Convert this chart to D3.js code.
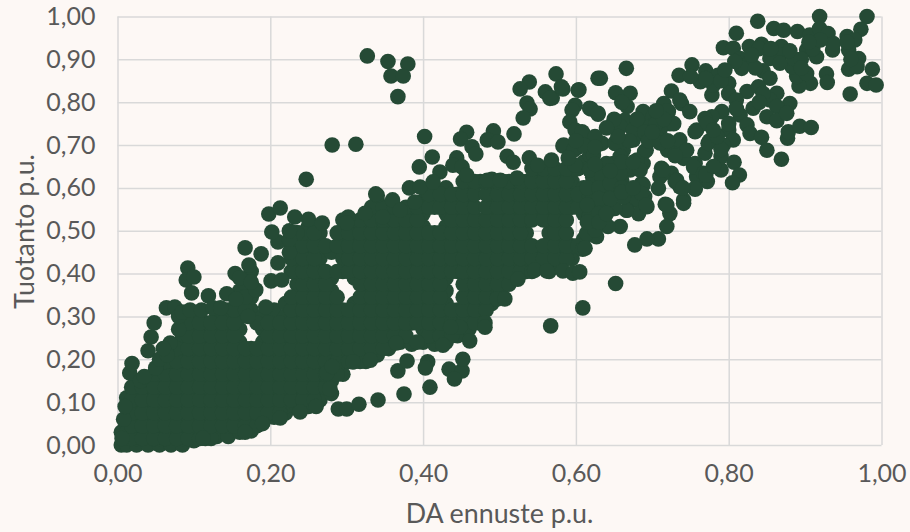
<!DOCTYPE html>
<html><head><meta charset="utf-8">
<script src="https://cdn.jsdelivr.net/npm/d3@7/dist/d3.min.js"></script>
<style>html,body{margin:0;padding:0;background:#fdf8f5}svg{display:block}</style>
</head><body><svg id="c" width="910" height="532"></svg>
<script>
const xTickValues=[0,.2,.4,.6,.8,1];
const yTickValues=[0,.1,.2,.3,.4,.5,.6,.7,.8,.9,1];
const xTitle="DA ennuste p.u.";
const yTitle="Tuotanto p.u.";
// dense core: forecast value of each column and the production values read in it
const coreForecast=[.005,.012,.025,.04,.055,.07,.085,.1,.115,.13,.145,.16,.175,.19,.205,.22,.235,.25,.265,.28,.295,.31,.325,.34,.355,.37,.385,.4,.415,.43,.445,.46,.475,.49,.505,.52,.535,.55,.565,.58,.595,.61];
const coreProduction=[
[0,.03],
[0,.03,.06,.09,.11],
[0,.015,.045,.075,.105,.135,.15],
[0,.03,.06,.09,.12,.15],
[0,.015,.045,.075,.105,.135,.165],
[0,.03,.06,.09,.12,.15,.18,.21],
[0,.015,.045,.075,.105,.135,.165,.195,.225,.255,.285],
[.01,.03,.06,.09,.12,.15,.18,.21,.24,.27,.3],
[.015,.045,.075,.105,.135,.165,.195,.225,.255,.285],
[.02,.03,.06,.09,.12,.15,.18,.21,.24,.27,.3],
[.02,.045,.075,.105,.135,.165,.195,.225,.255,.285,.315],
[.03,.06,.09,.12,.15,.18,.21,.24,.27,.3,.33,.36],
[.033,.045,.075,.105,.135,.165,.195,.225,.315,.345,.375,.405],
[.052,.06,.09,.12,.15,.18,.21,.24,.27,.3],
[.065,.075,.105,.135,.165,.195,.225,.255,.285,.315],
[.075,.09,.12,.15,.18,.21,.24,.27,.3,.33],
[.09,.105,.135,.165,.195,.225,.255,.285,.315,.345,.375,.405,.435,.465,.495],
[.09,.12,.15,.18,.21,.24,.27,.3,.33,.36,.39,.42,.45,.48,.51],
[.105,.135,.165,.195,.225,.255,.285,.315,.345,.375,.405,.435,.465,.495],
[.12,.15,.18,.21,.24,.27,.3,.33,.36,.39,.45],
[.165,.195,.225,.255,.285,.315,.405,.435,.465,.495,.525],
[.195,.21,.24,.27,.3,.33,.39,.42,.45,.48,.51],
[.195,.225,.255,.285,.315,.345,.375,.405,.435,.465,.495,.525],
[.21,.24,.27,.3,.33,.36,.39,.42,.45,.48,.51,.54,.57],
[.225,.255,.285,.315,.345,.375,.405,.435,.465,.495,.525,.555],
[.24,.27,.3,.33,.36,.39,.42,.45,.48,.51,.54],
[.235,.285,.315,.345,.375,.405,.435,.465,.495,.525,.555],
[.24,.27,.3,.33,.36,.39,.42,.45,.48,.51,.54,.57],
[.235,.255,.285,.315,.345,.375,.405,.435,.465,.495,.555,.585,.6],
[.24,.27,.3,.33,.36,.39,.42,.45,.48,.51,.54,.57,.6],
[.255,.285,.315,.405,.435,.465,.495,.525,.555,.585],
[.27,.3,.33,.36,.39,.42,.45,.48,.51,.54,.57,.6],
[.285,.315,.345,.375,.405,.435,.465,.495,.525,.615],
[.33,.36,.39,.42,.45,.48,.51,.54,.57,.6,.62],
[.345,.375,.405,.435,.465,.495,.525,.555,.585,.615],
[.39,.42,.45,.48,.51,.54,.57,.6],
[.405,.435,.465,.495,.525,.555,.585,.615],
[.42,.45,.54,.57,.6,.63],
[.405,.435,.465,.495,.525,.555,.585,.615,.645],
[.42,.45,.48,.51,.54,.57,.6,.63],
[.435,.465,.555,.585,.615,.645],
[.48,.54,.57,.6,.66]
];
// second reading of the core, between the columns above
const midForecast=[.0185,.0325,.0475,.0625,.0775,.0925,.1075,.1225,.1375,.1525,.1675,.1825,.1975,.2125,.2275,.2425,.2575,.2725,.2875,.3025,.3175,.3325,.3475,.3625,.3775,.3925,.4075,.4225,.4375,.4525,.4675,.4825,.4975,.5125,.5275,.5425,.5575,.5725,.5875,.6025];
const midProduction=[
[.015,.045,.075,.105,.135],
[.015,.045,.075,.105,.135],
[.015,.045,.075,.105,.135,.165],
[.015,.045,.075,.105,.135,.165,.195],
[.015,.045,.075,.105,.135,.165,.195,.225],
[.015,.045,.075,.105,.135,.165,.195,.225,.255,.285],
[.015,.045,.075,.105,.135,.165,.195,.225,.255,.285],
[.015,.045,.075,.105,.135,.165,.195,.225,.255,.285],
[.045,.075,.105,.135,.165,.195,.225,.255,.285],
[.045,.075,.105,.135,.165,.195,.225,.255,.285,.315],
[.045,.075,.105,.135,.165,.195,.225,.315,.345],
[.045,.075,.105,.135,.165,.195,.225,.285],
[.075,.105,.135,.165,.195,.225,.255,.285],
[.075,.105,.135,.165,.195,.225,.255,.285],
[.105,.135,.165,.195,.225,.255,.285,.315,.345,.405,.435,.465,.495],
[.105,.135,.165,.195,.225,.255,.285,.315,.345,.375,.405,.435,.465,.495],
[.105,.135,.165,.195,.225,.255,.285,.315,.345,.375,.405,.435,.465,.495],
[.135,.165,.195,.225,.255,.285,.315,.345,.375,.405,.465],
[.165,.195,.225,.255,.285,.315,.345,.405,.465,.495],
[.195,.225,.255,.285,.315,.405,.435,.465,.495],
[.195,.225,.255,.285,.315,.345,.375,.405,.435,.465,.495,.525],
[.225,.255,.285,.315,.345,.375,.405,.435,.465,.495,.525,.555],
[.225,.255,.285,.315,.345,.375,.405,.435,.465,.495,.525,.555],
[.255,.285,.315,.345,.375,.405,.435,.465,.495,.525,.555],
[.255,.285,.315,.345,.375,.405,.435,.465,.495,.525,.555],
[.285,.315,.345,.375,.405,.435,.465,.495,.525,.555],
[.255,.285,.315,.345,.375,.405,.435,.465,.495,.555,.585],
[.255,.285,.315,.345,.375,.405,.435,.465,.495,.555,.585],
[.255,.285,.315,.405,.435,.465,.495,.525,.555,.585],
[.285,.315,.345,.375,.405,.435,.465,.495,.525,.555,.585,.615],
[.285,.315,.345,.375,.405,.435,.465,.495,.525,.555,.585,.615],
[.315,.345,.375,.405,.435,.465,.495,.525,.555,.585,.615],
[.345,.375,.405,.435,.465,.495,.525,.555,.585,.615],
[.375,.405,.435,.465,.495,.525,.555,.585,.615],
[.405,.435,.465,.495,.525,.555,.585,.615],
[.405,.435,.465,.525,.555,.585,.615,.645],
[.435,.465,.525,.555,.585,.615,.645],
[.435,.465,.495,.525,.555,.585,.615,.645],
[.435,.465,.495,.525,.555,.585,.615,.645],
[.465,.555,.585,.645]
];
// individually readable points around the core: [forecast, production]
const outerPoints=[
[.016,.168],[.019,.19],[.04,.22],[.044,.252],[.048,.285],[.064,.32],[.075,.322],[.092,.413],[.09,.385],[.1,.392],[.097,.355],[.119,.348],[.143,.353],[.154,.4],[.172,.42],[.167,.46],[.188,.446],[.181,.362],[.194,.322],[.171,.3],[.21,.474],[.202,.497],[.198,.539],[.213,.553],[.21,.425],[.201,.383],[.215,.385],[.232,.532],[.25,.527],[.268,.518],[.235,.495],[.302,.532],[.3,.518],[.34,.583],[.36,.572],[.324,.541],[.347,.532],[.069,.238],
[.112,.016],[.167,.03],[.19,.05],[.213,.063],[.239,.077],[.26,.09],[.289,.084],[.3,.084],[.316,.095],[.341,.105],[.278,.131],[.274,.168],[.281,.183],[.308,.194],[.331,.198],[.375,.119],[.409,.135],[.367,.173],[.379,.196],[.406,.194],[.403,.18],[.434,.177],[.451,.173],[.441,.154],[.452,.2],[.461,.243],[.365,.238],[.392,.24],[.426,.233],[.481,.285],[.481,.275],[.448,.275],[.436,.275],[.497,.341],[.507,.341],[.524,.387],[.546,.408],[.562,.406],[.583,.406],[.596,.401],[.567,.278],[.609,.32],[.605,.404],[.652,.377],[.609,.457],
[.327,.908],[.354,.895],[.38,.889],[.358,.861],[.374,.861],[.367,.813],[.281,.7],[.312,.702],[.247,.62],[.402,.72],[.412,.672],[.395,.649],[.382,.6],[.396,.602],[.389,.567],[.338,.586],[.37,.548],[.422,.637],[.413,.614],
[.457,.73],[.449,.714],[.464,.696],[.469,.679],[.444,.67],[.439,.653],[.451,.649],[.457,.63],[.492,.733],[.484,.712],[.498,.707],[.519,.726],[.574,.866],[.539,.847],[.527,.831],[.56,.824],[.569,.81],[.583,.831],[.604,.829],[.536,.798],[.54,.784],[.531,.763],[.599,.793],[.595,.782],[.592,.754],[.599,.735],[.609,.728],[.62,.784],[.629,.772],[.629,.856],[.583,.698],[.601,.693],[.609,.707],[.51,.674],[.518,.66],[.539,.67],[.55,.653],[.568,.665],[.599,.653],[.621,.672],[.622,.625],[.484,.618],[.501,.618],[.523,.623],
[.981,1],[.973,.97],[.919,1],[.838,.989],[.81,.961],[.859,.972],[.872,.968],[.89,.965],[.906,.957],[.919,.972],[.93,.96],[.955,.953],[.965,.945],[.936,.922],[.937,.937],[.793,.927],[.806,.926],[.827,.93],[.843,.935],[.869,.93],[.902,.922],[.915,.906],[.957,.922],[.97,.902],[.957,.877],[.968,.883],[.988,.877],[.981,.844],[.993,.84],[.959,.819],[.928,.866],[.929,.846],[.907,.844],[.892,.838],[.889,.86],[.902,.867],[.883,.883],[.867,.91],[.854,.902],[.815,.902],[.828,.895],[.817,.879],[.808,.895],[.845,.873],[.854,.856],[.867,.891],[.885,.902],[.752,.887],[.735,.863],[.77,.873],[.786,.863],[.763,.848],[.8,.844],[.778,.817],[.78,.84],[.725,.826],[.738,.797],[.749,.778],[.8,.82],[.824,.825],[.839,.836],[.81,.805],[.832,.786],[.863,.821],[.854,.805],[.88,.797],[.863,.79],[.85,.766],[.863,.757],[.876,.774],[.791,.778],[.778,.766],[.769,.762],[.758,.735],[.8,.735],[.815,.77],[.824,.747],[.828,.727],[.843,.718],[.85,.688],[.869,.667],[.877,.716],[.878,.731],[.893,.744],[.908,.741],[.775,.71],[.806,.712],[.793,.7],[.769,.681],[.79,.673],[.807,.66],[.79,.642],[.772,.615],[.814,.63],[.805,.612],[.756,.657],[.758,.626],[.756,.597],[.741,.572],[.736,.603],[.741,.669],[.732,.696],[.72,.688],[.715,.797],[.723,.75],[.71,.735],[.688,.778],[.671,.821],[.652,.822],[.667,.79],[.656,.743],[.664,.758],[.693,.75],[.701,.766],[.684,.727],[.632,.856],[.666,.879],[.618,.786],[.629,.774],[.61,.72],[.634,.704],[.651,.704],[.618,.677],[.662,.688],[.69,.685],[.688,.657],[.649,.657],[.632,.65],[.671,.642],[.712,.646],[.71,.626],[.725,.634],[.73,.615],[.708,.599],[.686,.61],[.69,.58],[.677,.572],[.66,.618],[.64,.626],[.623,.626],[.649,.595],[.618,.58],[.649,.552],[.667,.548],[.682,.54],[.693,.556],[.717,.562],[.723,.54],[.719,.51],[.708,.481],[.693,.481],[.677,.467],[.658,.51],[.642,.51],[.627,.486],[.612,.459],[.618,.533],[.614,.494],
[.581,.836],[.566,.809],[.603,.828],[.608,.731],[.584,.7],[.597,.688],[.651,.704],[.658,.743],[.68,.743],[.675,.712],[.706,.719],[.697,.743],[.721,.778],[.728,.75],[.736,.712],[.745,.688],[.754,.649],[.767,.634],[.773,.704],[.771,.75],[.756,.731],[.736,.805],[.714,.642],[.732,.618],[.688,.607],[.686,.587],[.741,.564],[.756,.599],[.719,.56],[.692,.56],[.666,.548],[.651,.552],[.623,.618],[.618,.642],[.653,.61],[.64,.657],[.623,.677],[.658,.673],[.68,.665],[.692,.688],[.684,.642],[.658,.634],[.634,.626],[.662,.579],[.64,.587],[.623,.579],[.632,.556],[.618,.533],[.625,.502],
[.615,.6],[.63,.6],[.645,.61],[.66,.6],[.63,.575],[.645,.575],[.66,.59],[.615,.56],[.63,.54],[.615,.52],[.63,.52],[.64,.54],[.675,.6],[.66,.66],[.675,.66],[.675,.735],[.69,.73],[.67,.71],[.655,.72],[.625,.655],[.645,.64],[.705,.75],[.695,.71],[.71,.705],[.72,.71],[.73,.675],[.74,.6],[.77,.63],[.78,.65],[.79,.69],[.785,.72],[.78,.735],[.8,.75],[.81,.785],[.845,.82],[.84,.8],[.835,.88],[.84,.925],[.855,.925],[.88,.92],[.895,.9],[.895,.88],[.91,.925],[.92,.945],[.905,.94],[.83,.91],[.96,.9],[.955,.94],[.79,.85],[.795,.875],[.77,.855],[.75,.86],[.72,.78],[.7,.73],[.715,.76],[.705,.78],[.66,.8],[.68,.76],[.65,.76],[.64,.74],[.625,.72],[.61,.7],[.625,.695],[.59,.67],[.6,.71],[.225,.45],[.225,.48],[.225,.5],
[.03,.15],[.035,.16],[.05,.18],[.055,.2],[.065,.21],[.06,.225],[.08,.27],[.08,.3],[.085,.31],[.095,.315],[.11,.315],[.125,.32],[.135,.32],[.155,.34],[.165,.38],[.16,.39],[.175,.38],[.008,.06],[.01,.09],[.006,.015]
];
const background="#fdf8f5", grid="#d9d9d9", ink="#595959", dotColor="#254a35";

const svg=d3.select("#c");
svg.append("rect").attr("width",910).attr("height",532).attr("fill",background);
const x=d3.scaleLinear().domain([0,1]).range([117.5,881.5]);
const y=d3.scaleLinear().domain([0,1]).range([445,16.5]);
const fmt=d=>d3.format(".2f")(d).replace(".",",");
const font="Lato, sans-serif";

const gx=svg.append("g").attr("transform","translate(0,445)")
  .call(d3.axisBottom(x).tickValues(xTickValues).tickFormat(fmt).tickSize(-428.5).tickPadding(19));
const gy=svg.append("g").attr("transform","translate(117.5,0)")
  .call(d3.axisLeft(y).tickValues(yTickValues).tickFormat(fmt).tickSize(-764).tickPadding(22));
[gx,gy].forEach(g=>{
  g.select(".domain").remove();
  g.selectAll("line").attr("stroke",grid).attr("stroke-width",1.5);
  g.selectAll("text").attr("fill",ink).style("font-family",font).style("font-size","25px");
});

const core=coreForecast.flatMap((f,i)=>coreProduction[i].map(p=>[f,p]));
const mid=midForecast.flatMap((f,i)=>midProduction[i].map(p=>[f,p]));
const all=core.concat(mid,outerPoints);
svg.append("g").selectAll("circle").data(all).join("circle")
  .attr("cx",d=>x(d[0])).attr("cy",d=>y(d[1])).attr("r",7.8).attr("fill",dotColor);

svg.append("text").attr("x",499.5).attr("y",523).attr("text-anchor","middle")
  .attr("fill",ink).style("font-family",font).style("font-size","26.8px").text(xTitle);
svg.append("text").attr("transform","translate(34,231.5) rotate(-90)").attr("text-anchor","middle")
  .attr("fill",ink).style("font-family",font).style("font-size","26.8px").text(yTitle);
</script></body></html>
